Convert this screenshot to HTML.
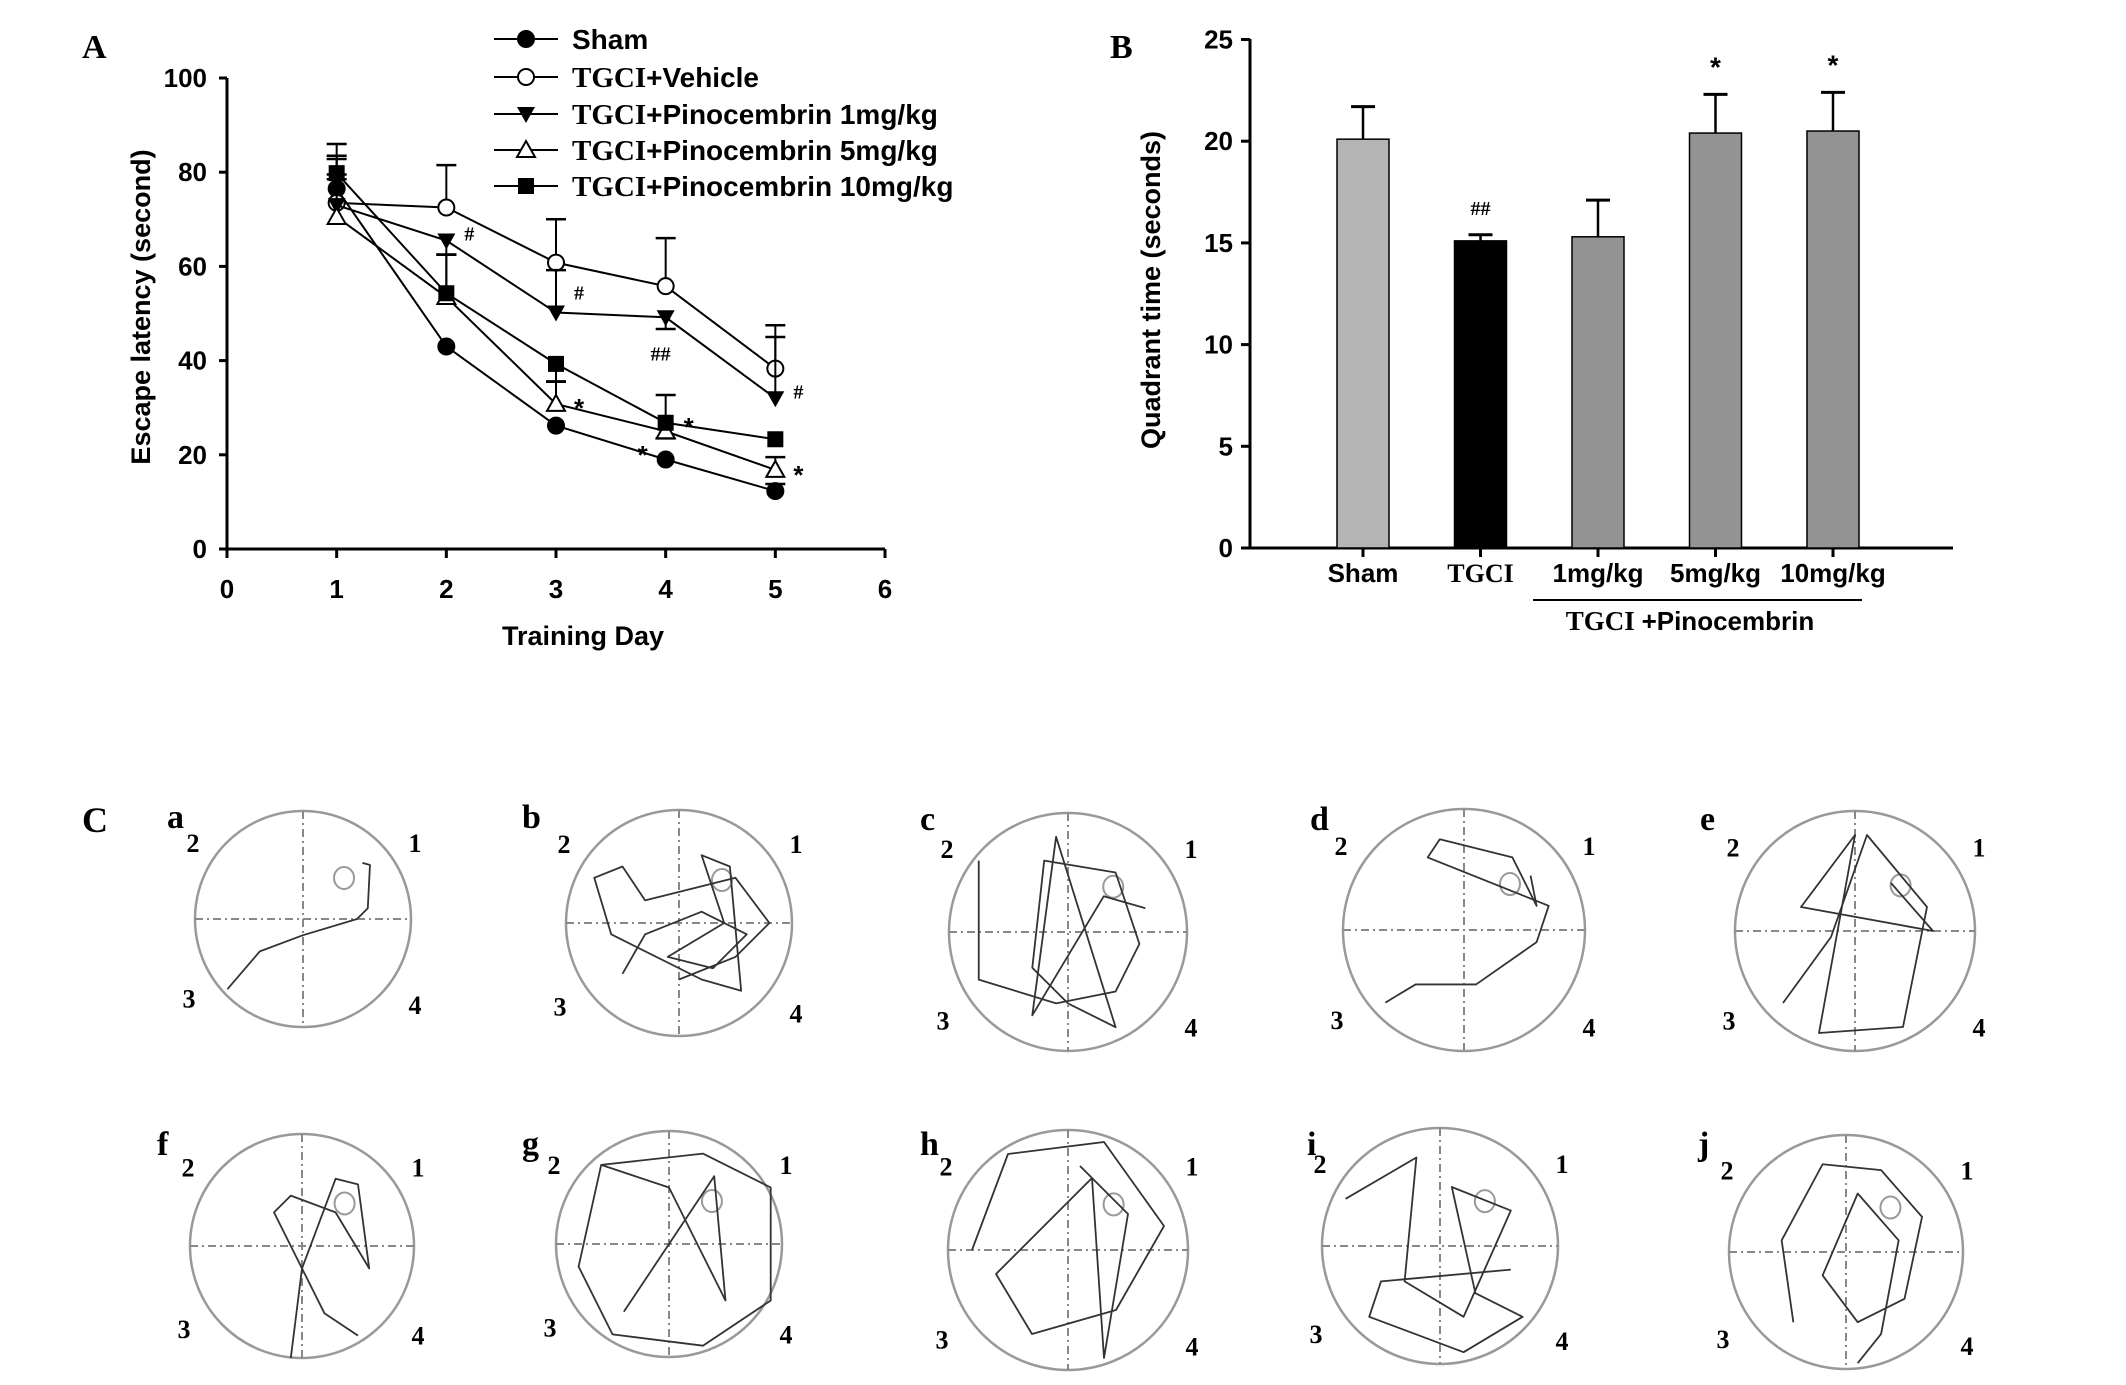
<!DOCTYPE html>
<html><head><meta charset="utf-8"><style>
html,body{margin:0;padding:0;background:#fff;}
svg{display:block;}
.s{font-family:"Liberation Sans",Arial,sans-serif;font-weight:bold;}
.t{font-family:"Liberation Serif","Times New Roman",serif;font-weight:bold;}
</style></head><body>
<svg id="fig" width="2126" height="1385" viewBox="0 0 2126 1385" xmlns="http://www.w3.org/2000/svg">
<g id="chartA"></g>
<g id="chartB"></g>
<g id="panelC"></g>
</svg>
<script>
// ---------- Chart A data ----------
const daysA = [1,2,3,4,5];
const xTicksA = [0,1,2,3,4,5,6];
const yTicksA = [0,20,40,60,80,100];
const shamA = [76.5,43,26.2,19,12.3];
const shamErr = [2,0,0,0,1.5];
const vehicleA = [73.5,72.5,60.8,55.8,38.3];
const vehicleErr = [12.5,9,9.2,10.2,9.2];
const pino1A = [73,65.5,50.2,49.2,32];
const pino1Err = [10.5,-3,9,-2.5,13];
const pino5A = [70.5,53.5,30.8,25,16.8];
const pino5Err = [9,9,4.8,-1.5,2.7];
const pino10A = [79.8,54.3,39.3,26.8,23.3];
const pino10Err = [3,8.2,-3.8,5.9,0];
const annotA = [["#",2,65.5],["#",3,53],["##",4,40],["#",5,32],["*",3,31],["*",4,27],["*",4,21],["*",5,16.8]];
const annotOffX = [18,18,-15,18,18,18,-28,18];

// ---------- Chart B data ----------
const catsB = ["Sham","TGCI","1mg/kg","5mg/kg","10mg/kg"];
const valsB = [20.1,15.1,15.3,20.4,20.5];
const errB = [1.6,0.3,1.8,1.9,1.9];
const marksB = ["","##","","*","*"];
const yTicksB = [0,5,10,15,20,25];

const NS="http://www.w3.org/2000/svg";
function mk(parent,tag,attrs,text){const e=document.createElementNS(NS,tag);for(const k in attrs)e.setAttribute(k,attrs[k]);if(text!==undefined)e.textContent=text;parent.appendChild(e);return e;}

// ---------- Chart A ----------
const A=document.getElementById('chartA');
const ax=v=>227+v*(885-227)/6;
const ay=v=>549-v*(549-78)/100;
let e;
e=mk(A,'line',{x1:227,y1:78,x2:227,y2:549,stroke:'#000','stroke-width':3});


e=mk(A,'line',{x1:227,y1:549,x2:885,y2:549,stroke:'#000','stroke-width':3});


yTicksA.forEach(t=>{
  mk(A,'line',{x1:219,y1:ay(t),x2:227,y2:ay(t),stroke:'#000','stroke-width':3});
  e=mk(A,'text',{x:207,y:ay(t)+9,'text-anchor':'end','font-size':26,class:'s'},t);
  
  
});
xTicksA.forEach(t=>{
  mk(A,'line',{x1:ax(t),y1:549,x2:ax(t),y2:558,stroke:'#000','stroke-width':3});
  e=mk(A,'text',{x:ax(t),y:598,'text-anchor':'middle','font-size':26,class:'s'},t);
  
  
});
e=mk(A,'text',{x:583,y:645,'text-anchor':'middle','font-size':27,class:'s'},'Training Day');


e=mk(A,'text',{x:0,y:0,'text-anchor':'middle','font-size':27,class:'s',transform:'translate(150,307) rotate(-90)'},'Escape latency (second)');


e=mk(A,'text',{x:82,y:58,'font-size':34,class:'t'},'A');



function marker(g,type,x,y){
  const r=8;
  if(type==='fc')return mk(g,'circle',{cx:x,cy:y,r:r,fill:'#000',stroke:'#000','stroke-width':2});
  if(type==='oc')return mk(g,'circle',{cx:x,cy:y,r:r,fill:'#fff',stroke:'#000','stroke-width':2});
  if(type==='dt')return mk(g,'path',{d:`M${x-9},${y-7}L${x+9},${y-7}L${x},${y+9}Z`,fill:'#000'});
  if(type==='ut')return mk(g,'path',{d:`M${x},${y-9}L${x+9},${y+7}L${x-9},${y+7}Z`,fill:'#fff',stroke:'#000','stroke-width':2});
  if(type==='sq')return mk(g,'rect',{x:x-8,y:y-8,width:16,height:16,fill:'#000'});
}
const series=[
  {name:'Sham',v:shamA,err:shamErr,m:'fc'},
  {name:'TGCI+Vehicle',v:vehicleA,err:vehicleErr,m:'oc'},
  {name:'TGCI+Pinocembrin 1mg/kg',v:pino1A,err:pino1Err,m:'dt'},
  {name:'TGCI+Pinocembrin 5mg/kg',v:pino5A,err:pino5Err,m:'ut'},
  {name:'TGCI+Pinocembrin 10mg/kg',v:pino10A,err:pino10Err,m:'sq'}
];
const slugs=['sham','vehicle','pino-1mg','pino-5mg','pino-10mg'];
series.forEach((s,si)=>{
  const g=mk(A,'g',{});
  
  
  s.v.forEach((v,i)=>{
    const er=s.err[i]; if(!er)return;
    const x=ax(daysA[i]);
    mk(g,'line',{x1:x,y1:ay(v),x2:x,y2:ay(v+er),stroke:'#000','stroke-width':2});
    mk(g,'line',{x1:x-10,y1:ay(v+er),x2:x+10,y2:ay(v+er),stroke:'#000','stroke-width':2.5});
  });
  const pts=s.v.map((v,i)=>ax(daysA[i])+','+ay(v)).join(' ');
  e=mk(g,'polyline',{points:pts,fill:'none',stroke:'#000','stroke-width':2});
  
  
  s.v.forEach((v,i)=>{
    e=marker(g,s.m,ax(daysA[i]),ay(v));
    
    
  });
});
annotA.forEach((a,i)=>{
  e=mk(A,'text',{x:ax(a[1])+annotOffX[i],y:ay(a[2])+(a[0]==='*'?14:0),'font-size':a[0]==='*'?26:20,class:a[0]==='*'?'s':'t'},a[0]);
  
  
});
// legend
const lg=mk(A,'g',{});


const legY=[39,77,114,150,186];
series.forEach((s,i)=>{
  const g=mk(lg,'g',{});
  
  
  mk(g,'line',{x1:494,y1:legY[i],x2:558,y2:legY[i],stroke:'#000','stroke-width':2});
  marker(g,s.m,526,legY[i]);
  const t=mk(g,'text',{x:572,y:legY[i]+10,'font-size':28,class:'s'});
  if(i===0){t.textContent='Sham';}
  else{
    mk(t,'tspan',{class:'t','font-size':29},'TGCI');
    mk(t,'tspan',{},s.name.slice(4));
  }
});

// ---------- Chart B ----------
const B=document.getElementById('chartB');
const bx0=1250,bx1=1953;
const by=v=>548-v*(548-39.5)/25;
const bc=i=>1363+i*117.5;
e=mk(B,'line',{x1:bx0,y1:39,x2:bx0,y2:548,stroke:'#000','stroke-width':3});


e=mk(B,'line',{x1:bx0-8,y1:548,x2:bx1,y2:548,stroke:'#000','stroke-width':3});


yTicksB.forEach(t=>{
  mk(B,'line',{x1:bx0-9,y1:by(t),x2:bx0,y2:by(t),stroke:'#000','stroke-width':3});
  e=mk(B,'text',{x:1233,y:by(t)+9,'text-anchor':'end','font-size':26,class:'s'},t);
  
  
});
const fills=['#b4b4b4','#000','#939393','#939393','#939393'];
catsB.forEach((c,i)=>{
  const x=bc(i),v=valsB[i];
  mk(B,'line',{x1:x,y1:548,x2:x,y2:557,stroke:'#000','stroke-width':3});
  mk(B,'line',{x1:x,y1:by(v),x2:x,y2:by(v+errB[i]),stroke:'#000','stroke-width':2.5});
  mk(B,'line',{x1:x-12,y1:by(v+errB[i]),x2:x+12,y2:by(v+errB[i]),stroke:'#000','stroke-width':3});
  e=mk(B,'rect',{x:x-26,y:by(v),width:52,height:548-by(v),fill:fills[i],stroke:'#000','stroke-width':1.5});
  
  
  e=mk(B,'text',{x:x,y:582,'text-anchor':'middle','font-size':26,class:c==='TGCI'?'t':'s'},c);
  
  
  if(marksB[i]){
    const top=by(v+errB[i]);
    e=mk(B,'text',{x:x,y:marksB[i]==='*'?top-18:top-20,'text-anchor':'middle','font-size':marksB[i]==='*'?28:20,class:marksB[i]==='*'?'s':'t'},marksB[i]);
    
    
  }
});
mk(B,'line',{x1:1533,y1:600,x2:1862,y2:600,stroke:'#000','stroke-width':2});
e=mk(B,'text',{x:1690,y:630,'text-anchor':'middle','font-size':26,class:'s'});
mk(e,'tspan',{class:'t','font-size':27},'TGCI ');
mk(e,'tspan',{},'+Pinocembrin');


e=mk(B,'text',{x:0,y:0,'text-anchor':'middle','font-size':27,class:'s',transform:'translate(1160,290) rotate(-90)'},'Quadrant time (seconds)');


e=mk(B,'text',{x:1110,y:58,'font-size':34,class:'t'},'B');



// ---------- Panel C ----------
const C=document.getElementById('panelC');
e=mk(C,'text',{x:82,y:832,'font-size':36,class:'t'},'C');


const pools=[
 ['a',303,919,108,167,828],['b',679,923,113,522,828],['c',1068,932,119,920,830],['d',1464,930,121,1310,830],['e',1855,931,120,1700,830],
 ['f',302,1246,112,157,1155],['g',669,1244,113,522,1155],['h',1068,1250,120,920,1155],['i',1440,1246,118,1307,1155],['j',1846,1252,117,1698,1155]
];
const paths={
 a:[[-0.7,0.65],[-0.4,0.3],[0,0.15],[0.5,0.0],[0.6,-0.1],[0.62,-0.5],[0.55,-0.52]],
 b:[[-0.5,0.45],[-0.3,0.1],[0.2,-0.1],[0.6,0.1],[0.3,0.4],[-0.1,0.3],[0.4,0.0],[0.2,-0.6],[0.45,-0.5],[0.55,0.6],[0.2,0.5],[-0.6,0.1],[-0.75,-0.4],[-0.5,-0.5],[-0.3,-0.2],[0.5,-0.4],[0.8,0.0],[0.5,0.3],[0,0.5]],
 c:[[-0.75,-0.6],[-0.75,0.4],[-0.1,0.6],[0.4,0.5],[0.6,0.1],[0.4,-0.5],[-0.2,-0.6],[-0.3,0.3],[0,0.6],[0.4,0.8],[-0.1,-0.8],[-0.3,0.7],[0.3,-0.3],[0.65,-0.2]],
 d:[[-0.65,0.6],[-0.4,0.45],[0.1,0.45],[0.6,0.1],[0.7,-0.2],[-0.3,-0.6],[-0.2,-0.75],[0.4,-0.6],[0.6,-0.2],[0.55,-0.45]],
 e:[[-0.6,0.6],[-0.2,0.05],[0.1,-0.8],[0.6,-0.2],[0.4,0.8],[-0.3,0.85],[0,-0.8],[-0.45,-0.2],[0.65,0.0],[0.3,-0.4]],
 f:[[-0.1,1],[0,0.2],[0.3,-0.6],[0.5,-0.55],[0.6,0.2],[0.3,-0.3],[-0.1,-0.45],[-0.25,-0.3],[0.2,0.6],[0.5,0.8]],
 g:[[-0.6,-0.7],[0.3,-0.8],[0.9,-0.5],[0.9,0.5],[0.3,0.9],[-0.5,0.8],[-0.8,0.2],[-0.6,-0.7],[0,-0.5],[0.5,0.5],[0.4,-0.6],[-0.4,0.6]],
 h:[[-0.8,0.0],[-0.5,-0.8],[0.3,-0.9],[0.8,-0.2],[0.4,0.5],[-0.3,0.7],[-0.6,0.2],[0.2,-0.6],[0.3,0.9],[0.5,-0.3],[0.1,-0.7]],
 i:[[-0.8,-0.4],[-0.2,-0.75],[-0.3,0.3],[0.2,0.6],[0.6,-0.3],[0.1,-0.5],[0.3,0.4],[0.7,0.6],[0.2,0.9],[-0.6,0.6],[-0.5,0.3],[0.6,0.2]],
 j:[[-0.45,0.6],[-0.55,-0.1],[-0.2,-0.75],[0.3,-0.7],[0.65,-0.3],[0.5,0.4],[0.1,0.6],[-0.2,0.2],[0.1,-0.5],[0.45,-0.1],[0.3,0.7],[0.1,0.95]]
};
pools.forEach(p=>{
  const [id,cx,cy,r,lx,ly]=p;
  const g=mk(C,'g',{});
  
  
  mk(g,'circle',{cx:cx,cy:cy,r:r,fill:'none',stroke:'#999','stroke-width':2.5});
  mk(g,'line',{x1:cx-r,y1:cy,x2:cx+r,y2:cy,stroke:'#888','stroke-width':2,'stroke-dasharray':'8,4,2,4'});
  mk(g,'line',{x1:cx,y1:cy-r,x2:cx,y2:cy+r,stroke:'#888','stroke-width':2,'stroke-dasharray':'8,4,2,4'});
  mk(g,'ellipse',{cx:cx+0.38*r,cy:cy-0.38*r,rx:10,ry:11,fill:'none',stroke:'#999','stroke-width':2});
  const pts=paths[id].map(q=>(cx+q[0]*r)+','+(cy+q[1]*r)).join(' ');
  mk(g,'polyline',{points:pts,fill:'none',stroke:'#333','stroke-width':1.8,'stroke-linejoin':'round'});
  e=mk(g,'text',{x:lx,y:ly,'font-size':34,class:'t'},id);
  
  
  const q=[['2',-r-2,-r*0.62],['1',r+4,-r*0.62],['3',-r-6,r*0.82],['4',r+4,r*0.88]];
  q.forEach(n=>{
    e=mk(g,'text',{x:cx+n[1],y:cy+n[2],'font-size':26,class:'t','text-anchor':'middle'},n[0]);
    
    
  });
});
</script>
</body></html>
